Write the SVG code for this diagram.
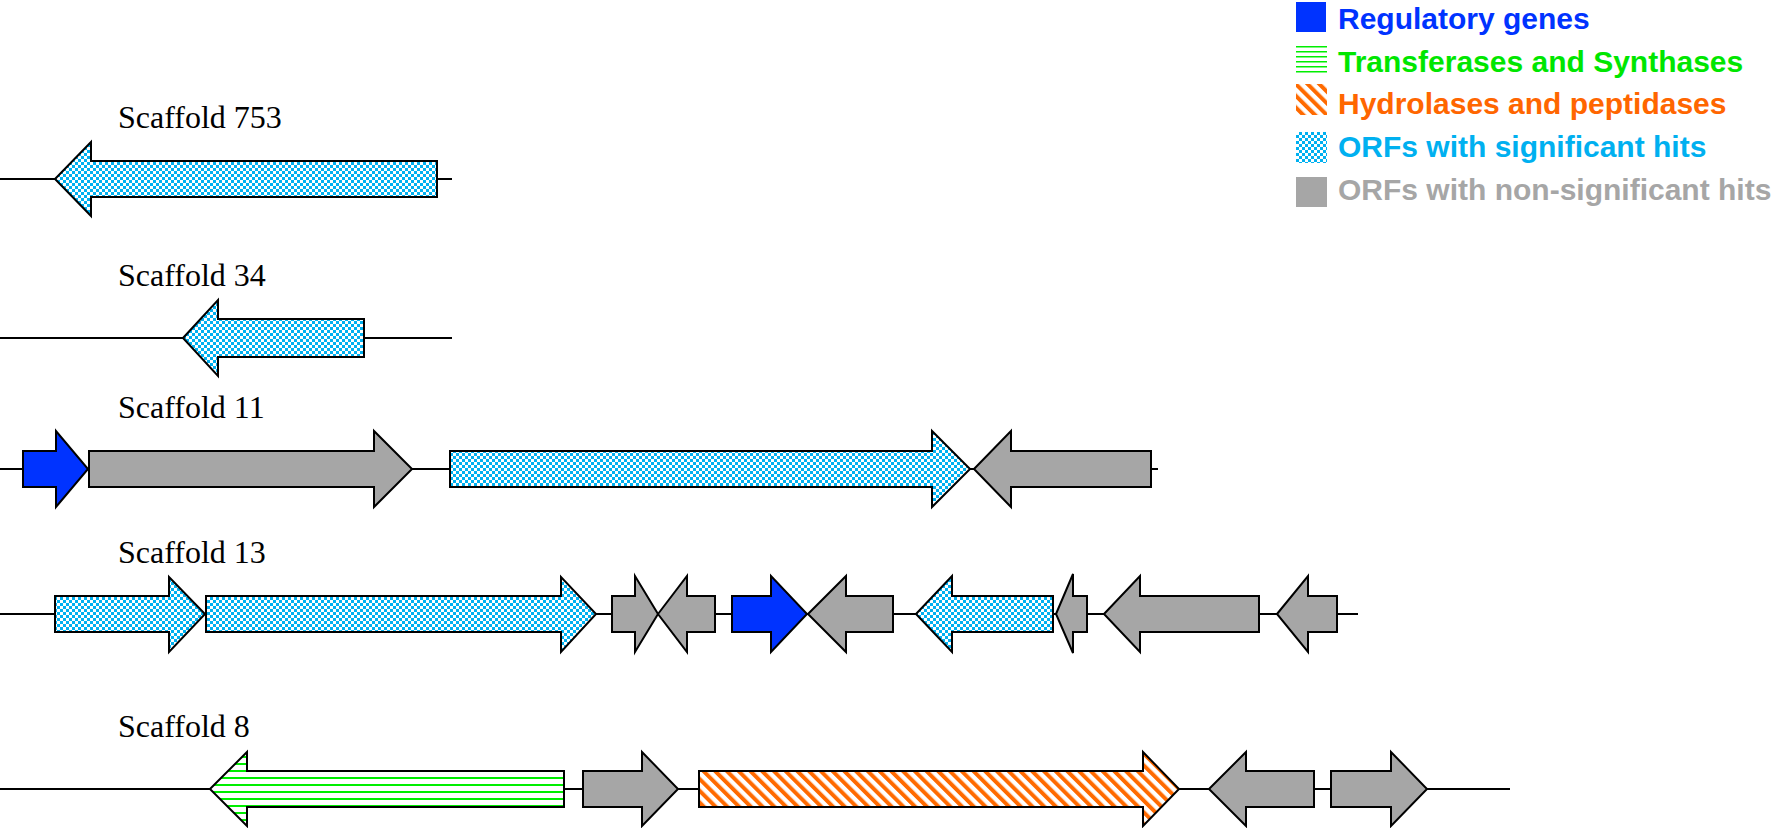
<svg xmlns="http://www.w3.org/2000/svg" width="1773" height="828" viewBox="0 0 1773 828">
<style>
.bg{fill:#fff}
.gene{stroke:#000;stroke-width:2;stroke-linejoin:miter}
.reg{fill:#0033FF}
.gray{fill:#A6A6A6}
.cyan{fill:url(#checker)}
.green{fill:url(#hlines)}
.orange{fill:url(#diag)}
.bb{stroke:#000;stroke-width:2;fill:none}
.lbl{font-family:"Liberation Serif","Times New Roman",serif;font-size:32px;fill:#000}
.leg{font-family:"Liberation Sans",Arial,sans-serif;font-size:30px;font-weight:bold}
</style>
<defs>
<pattern id="checker" patternUnits="userSpaceOnUse" width="6" height="6">
<rect width="6" height="6" fill="#00B0F0"/>
<rect x="0" y="0" width="3" height="3" fill="#fff"/>
<rect x="3" y="3" width="3" height="3" fill="#fff"/>
</pattern>
<pattern id="hlines" patternUnits="userSpaceOnUse" width="8" height="7">
<rect width="8" height="7" fill="#fff"/>
<rect x="0" y="0" width="8" height="2" fill="#00EE00"/>
</pattern>
<pattern id="leghl" patternUnits="userSpaceOnUse" width="8" height="5" y="1">
<rect width="8" height="5" fill="#fff"/>
<rect x="0" y="0" width="8" height="1.5" fill="#00EE00"/>
</pattern>
<pattern id="diag" patternUnits="userSpaceOnUse" width="8.3" height="8.3" patternTransform="rotate(-45)">
<rect width="8.3" height="8.3" fill="#fff"/>
<rect x="0" y="0" width="4" height="8.3" fill="#FF6A00"/>
</pattern>
</defs>
<rect class="bg" width="1773" height="828"/>

<g id="legend">
<g id="leg-reg"><rect x="1296" y="2" width="30" height="30" fill="#0033FF"/><text class="leg" x="1338" y="29" fill="#0033FF">Regulatory genes</text></g>
<g id="leg-trans"><rect x="1296" y="46" width="31" height="28" fill="url(#leghl)"/><text class="leg" x="1338" y="72" fill="#00E600">Transferases and Synthases</text></g>
<g id="leg-hydro"><rect x="1296" y="84" width="31" height="31" fill="url(#diag)"/><text class="leg" x="1338" y="114" fill="#FF6600">Hydrolases and peptidases</text></g>
<g id="leg-sig"><rect x="1296" y="132" width="31" height="31" fill="url(#checker)"/><text class="leg" x="1338" y="157" fill="#00B0F0">ORFs with significant hits</text></g>
<g id="leg-nonsig"><rect x="1296" y="177" width="31" height="30" fill="#A6A6A6"/><text class="leg" x="1338" y="200" fill="#A6A6A6">ORFs with non-significant hits</text></g>
</g>

<g id="labels">
<text class="lbl" x="118" y="128">Scaffold 753</text>
<text class="lbl" x="118" y="286">Scaffold 34</text>
<text class="lbl" x="118" y="418">Scaffold 11</text>
<text class="lbl" x="118" y="563">Scaffold 13</text>
<text class="lbl" x="118" y="737">Scaffold 8</text>
</g>

<g id="connectors">
<line class="bb" x1="0" y1="179" x2="452" y2="179"/>
<line class="bb" x1="0" y1="338" x2="452" y2="338" stroke-width="2.5"/>
<line class="bb" x1="0" y1="469" x2="1158" y2="469"/>
<line class="bb" x1="0" y1="614" x2="1358" y2="614"/>
<line class="bb" x1="0" y1="789" x2="1510" y2="789"/>
</g>

<g id="scaffold753">
<g id="s753-g1"><polygon class="gene cyan" points="55,179 91,142 91,161 437,161 437,197 91,197 91,216"/></g>
</g>

<g id="scaffold34">
<g id="s34-g1"><polygon class="gene cyan" points="183,338 218,300 218,319 364,319 364,357 218,357 218,376" stroke-width="2.5"/></g>
</g>

<g id="scaffold11">
<g id="s11-g1"><polygon class="gene reg" points="23,451 56,451 56,431 88,469 56,507 56,487 23,487"/></g>
<g id="s11-g2"><polygon class="gene gray" points="89,451 374,451 374,431 412,469 374,507 374,487 89,487"/></g>
<g id="s11-g3"><polygon class="gene cyan" points="450,451 932,451 932,431 970,469 932,507 932,487 450,487"/></g>
<g id="s11-g4"><polygon class="gene gray" points="974,469 1011,431 1011,451 1151,451 1151,487 1011,487 1011,507"/></g>
</g>

<g id="scaffold13">
<g id="s13-g1"><polygon class="gene cyan" points="55,596 169,596 169,577 205,614 169,652 169,632 55,632"/></g>
<g id="s13-g2"><polygon class="gene cyan" points="206,596 561,596 561,577 596,614 561,652 561,632 206,632"/></g>
<g id="s13-g3"><polygon class="gene gray" points="612,596 635,596 635,576 658,614 635,652 635,632 612,632"/></g>
<g id="s13-g4"><polygon class="gene gray" points="658,614 687,576 687,596 715,596 715,632 687,632 687,652"/></g>
<g id="s13-g5"><polygon class="gene reg" points="732,596 771,596 771,576 807,614 771,652 771,632 732,632"/></g>
<g id="s13-g6"><polygon class="gene gray" points="808,614 846,576 846,596 893,596 893,632 846,632 846,652"/></g>
<g id="s13-g7"><polygon class="gene cyan" points="916,614 952,576 952,596 1053,596 1053,632 952,632 952,652"/></g>
<g id="s13-g8"><polygon class="gene gray" points="1056,614 1073,574 1073,596 1087,596 1087,632 1073,632 1073,653"/></g>
<g id="s13-g9"><polygon class="gene gray" points="1104,614 1140,576 1140,596 1259,596 1259,632 1140,632 1140,652"/></g>
<g id="s13-g10"><polygon class="gene gray" points="1277,614 1308,576 1308,596 1337,596 1337,632 1308,632 1308,652"/></g>
</g>

<g id="scaffold8">
<g id="s8-g1"><polygon class="gene green" points="210,789 247,752 247,771 564,771 564,807 247,807 247,826"/></g>
<g id="s8-g2"><polygon class="gene gray" points="583,771 642,771 642,752 678,789 642,826 642,807 583,807"/></g>
<g id="s8-g3"><polygon class="gene orange" points="699,771 1143,771 1143,752 1179,789 1143,826 1143,807 699,807"/></g>
<g id="s8-g4"><polygon class="gene gray" points="1209,789 1246,752 1246,771 1314,771 1314,807 1246,807 1246,826"/></g>
<g id="s8-g5"><polygon class="gene gray" points="1331,771 1391,771 1391,752 1427,789 1391,826 1391,807 1331,807"/></g>
</g>
</svg>
